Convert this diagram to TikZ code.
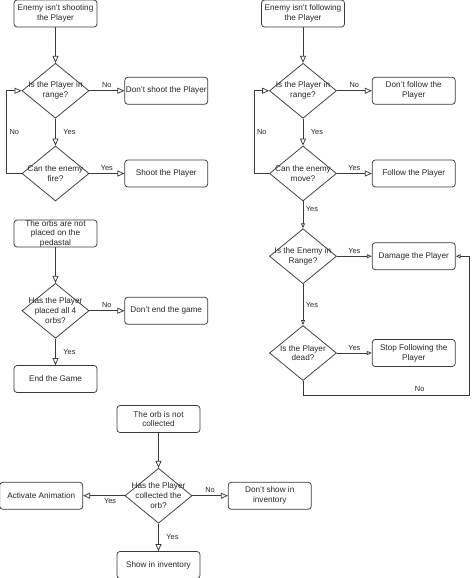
\documentclass[tikz,border=0pt]{standalone}
\usepackage{fontspec}
\setmainfont{Liberation Sans}
\usetikzlibrary{positioning}
\usetikzlibrary{shapes.geometric}
\usetikzlibrary{arrows.meta}
\definecolor{linegray}{HTML}{3A3A3A}
\definecolor{textgray}{HTML}{262626}

\begin{document}
\begin{tikzpicture}[x=1pt, y=-1pt,
	stepbox/.style={draw=linegray, rounded corners=3pt, line width=0.75pt, minimum width=83pt, minimum height=27pt, inner sep=1pt, align=center, text=textgray, font=\fontsize{8.2}{9.8}\selectfont},
	choice/.style={draw=linegray, diamond, line width=0.75pt, minimum width=67pt, minimum height=55pt, inner sep=0pt},
	choicetext/.style={align=center, text=textgray, font=\fontsize{8.2}{9.8}\selectfont},
	flow/.style={draw=linegray, line width=0.75pt, -{Triangle[open, length=7pt, width=6pt]}},
	flowsmall/.style={draw=linegray, line width=0.75pt, -{Triangle[open, length=5pt, width=4pt]}},
	answer/.style={text=textgray, font=\fontsize{7.4}{8}\selectfont, inner sep=2.5pt}]
			\path[use as bounding box, clip] (0,0) rectangle (474,578);
			
			\node[stepbox] (shoot0) at (55.5,13.5) {Enemy isn't shooting\\the Player};
			\node[choice, label={[choicetext]center:Is the Player in\\range?}, below = 35.5pt of shoot0] (shoot1) {};
			\node[stepbox, right = 35pt of shoot1] (shoot1n) {Don't shoot the Player};
			\node[choice, label={[choicetext]center:Can the enemy\\fire?}, below = 27pt of shoot1] (shoot2) {};
			\node[stepbox, right = 35pt of shoot2] (shoot2y) {Shoot the Player};
			
			\node[stepbox] (follow0) at (303,13.5) {Enemy isn't following\\the Player};
			\node[choice, label={[choicetext]center:Is the Player in\\range?}, below = 35.5pt of follow0] (follow1) {};
			\node[stepbox, right = 35pt of follow1] (follow1n) {Don't follow the\\Player};
			\node[choice, label={[choicetext]center:Can the enemy\\move?}, below = 27pt of follow1] (follow2) {};
			\node[stepbox, right = 35pt of follow2] (follow2y) {Follow the Player};
			\node[choice, label={[choicetext]center:Is the Enemy in\\Range?}, below = 27pt of follow2] (follow3) {};
			\node[stepbox, right = 35pt of follow3] (follow3y) {Damage the Player};
			\node[choice, label={[choicetext]center:Is the Player\\dead?}, below = 41pt of follow3] (follow4) {};
			\node[stepbox, right = 35pt of follow4] (follow4y) {Stop Following the\\Player};
			\coordinate[right = 14pt of follow3y.east] (followturn);
			
			\node[stepbox, inner ysep=0pt, font=\fontsize{8.2}{9.5}\selectfont] (orbs0) at (55.5,233.5) {The orbs are not\\placed on the\\pedastal};
			\node[choice, label={[choicetext]center:Has the Player\\placed all 4\\orbs?}, below = 35.5pt of orbs0] (orbs1) {};
			\node[stepbox, right = 35pt of orbs1] (orbs1n) {Don't end the game};
			\node[stepbox, below = 26.5pt of orbs1] (orbs1y) {End the Game};
			
			\node[stepbox] (collect0) at (158.5,419) {The orb is not\\collected};
			\node[choice, label={[choicetext]center:Has the Player\\collected the\\orb?}, below = 35pt of collect0] (collect1) {};
			\node[stepbox, right = 35.5pt of collect1] (collect1n) {Don't show in\\inventory};
			\node[stepbox, left = 41.5pt of collect1] (collect1y) {Activate Animation};
			\node[stepbox, below = 27.5pt of collect1] (collect1d) {Show in inventory};
			
			\draw[flow] (shoot0) -- (shoot1);
			\draw[flow] (shoot1) -- node[answer, above] {No} (shoot1n);
			\draw[flow] (shoot1) -- node[answer, right = 5pt] {Yes} (shoot2);
			\draw[flow] (shoot2) -- node[answer, above] {Yes} (shoot2y);
			\draw[flow] (shoot2.west) -- ++(-15pt,0) |- node[answer, right, pos = 0.25] {No} (shoot1.west);
			
			\draw[flow] (follow0) -- (follow1);
			\draw[flow] (follow1) -- node[answer, above] {No} (follow1n);
			\draw[flow] (follow1) -- node[answer, right = 5pt] {Yes} (follow2);
			\draw[flow] (follow2) -- node[answer, above] {Yes} (follow2y);
			\draw[flow] (follow2.west) -- ++(-15pt,0) |- node[answer, right, pos = 0.25] {No} (follow1.west);
			\draw[flowsmall] (follow2) -- node[answer, right = 0pt, pos = 0.3] {Yes} (follow3);
			\draw[flowsmall] (follow3) -- node[answer, above] {Yes} (follow3y);
			\draw[flowsmall] (follow3) -- node[answer, right = 0pt] {Yes} (follow4);
			\draw[flowsmall] (follow4) -- node[answer, above] {Yes} (follow4y);
			\draw[flowsmall] (follow4.south) -- ++(0,-14pt) -| node[answer, above, pos = 0.35] {No} (followturn) -- (follow3y.east);
			
			\draw[flow] (orbs0) -- (orbs1);
			\draw[flow] (orbs1) -- node[answer, above] {No} (orbs1n);
			\draw[flow] (orbs1) -- node[answer, right = 5pt] {Yes} (orbs1y);
			
			\draw[flow] (collect0) -- (collect1);
			\draw[flow] (collect1) -- node[answer, above] {No} (collect1n);
			\draw[flow] (collect1) -- node[answer, below, pos = 0.35] {Yes} (collect1y);
			\draw[flow] (collect1) -- node[answer, right = 5pt] {Yes} (collect1d);
\end{tikzpicture}
\end{document}
